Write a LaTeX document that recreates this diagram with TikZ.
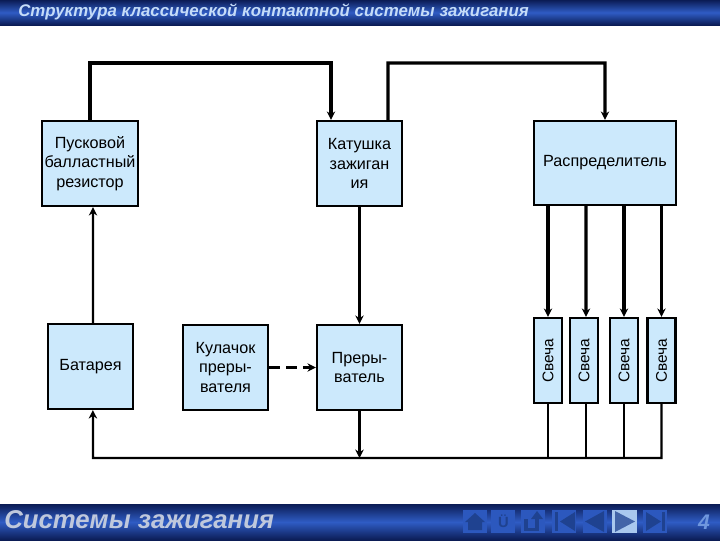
\documentclass[tikz,border=0pt]{standalone}
\usepackage{fontspec}
\setmainfont{Liberation Sans}
\usetikzlibrary{arrows.meta}
\usetikzlibrary{calc}
\usetikzlibrary{positioning}
\definecolor{boxblue}{HTML}{CCE9FC}
\definecolor{bardark}{HTML}{0B1C55}
\definecolor{barblue}{HTML}{2F5CC4}
\definecolor{barlight}{HTML}{C5DCF8}
\definecolor{bargrey}{HTML}{BFC8DC}
\definecolor{navdark}{HTML}{1F4290}
\definecolor{navbtn}{HTML}{2C58BE}
\definecolor{navhi}{HTML}{A9C8EE}
\definecolor{navnum}{HTML}{6F97DE}
\tikzset{
	block/.style={draw,line width=1.6pt,fill=boxblue,align=center,inner sep=0pt,font=\fontsize{11.5}{14}\selectfont,minimum width=2.125cm,minimum height=2.125cm},
	plug/.style={block,rotate=90,minimum width=2.125cm,minimum height=0.7cm,font=\fontsize{11}{13}\selectfont},
	heavy/.style={line width=2.2pt},
	light/.style={line width=1.6pt},
	navicon/.style={fill=navdark,draw=none}
}
\begin{document}
\begin{tikzpicture}[x=0.025cm,y=-0.025cm,>={Stealth[length=6pt,width=6pt]}]
		\useasboundingbox (0,0) rectangle (720,540);
		% bars
		\shade[top color=bardark,bottom color=bardark,middle color=barblue] (0,0) rectangle (720,25);
		\shade[top color=bardark,bottom color=bardark,middle color=barblue] (0,504) rectangle (720,540);
		\path
		(18,12) node[anchor=west,text=barlight,inner sep=0pt,font=\fontsize{12}{14}\selectfont\bfseries\itshape](title) {Структура классической контактной системы зажигания}
		(4,520) node[anchor=west,text=bargrey,inner sep=0pt,font=\fontsize{18.3}{21}\selectfont\bfseries\itshape](footer) {Системы зажигания}
		(704,522) node[text=navnum,inner sep=0pt,font=\fontsize{15}{18}\selectfont\bfseries\itshape](page) {4};
		% blocks
		\path
		(90,163.5) node[block,minimum width=2.4cm](res) {Пусковой\\балластный\\резистор}
		(359.5,163.5) node[block](coil) {Катушка\\зажиган\\ия}
		(605,163) node[block,minimum width=3.55cm,minimum height=2.1cm](dist) {Распределитель}
		(90.5,366.5) node[block](bat) {Батарея}
		(225.5,367.5) node[block](cam) {Кулачок\\преры-\\вателя}
		(359.5,367.5) node[block](brk) {Преры-\\ватель}
		(548,360.5) node[plug](p1) {Свеча}
		(584,360.5) node[plug](p2) {Свеча}
		(624,360.5) node[plug](p3) {Свеча}
		(661.5,360.5) node[plug](p4) {Свеча};
		% routing points
		\coordinate (t1) at (90,63);
		\coordinate (t2) at (388,63);
		\coordinate (bus) at (93,458);
		% connectors
		\draw[heavy,->] (res.north) -- (t1) -| ([xshift=-0.7125cm]coil.north);
		\draw[heavy,->] ([xshift=0.7125cm]coil.north) -- (t2) -| (dist.north);
		\draw[light,->] ([xshift=0.06cm]bat.north) -- ([xshift=0.075cm]res.south);
		\draw[heavy,->] (coil.south) -- (brk.north);
		\draw[heavy,->,dash pattern=on 8pt off 4pt] (cam.east) -- (brk.west);
		\foreach \p in {p1,p3,p4}
			\draw[heavy,->] (dist.south -| \p.center) -- (\p.east);
		\draw[heavy,->] (dist.south -| {$(p2.center)+(2,0)$}) -- ([xshift=0.05cm]p2.east);
		\draw[light] (p1.west) -- (p1.west |- bus);
		\draw[light] ([xshift=0.05cm]p2.west) -- ([xshift=0.05cm]p2.west |- bus);
		\draw[light] (p3.west) -- (p3.west |- bus);
		\draw[light,->] (p4.west) |- (bus) -- ([xshift=0.06cm]bat.south);
		\draw[light,->] (brk.south) -- (brk.south |- bus);
		% buttons
		\foreach \x in {475,503,533,564,595,655}
			\fill[navbtn] (\x-12,510) rectangle (\x+12,533);
		\fill[navhi] (612,510) rectangle (637,533);
		\fill[navicon] (475,513) -- (485,522) -- (482,522) -- (482,530) -- (468,530) -- (468,522) -- (465,522) -- cycle;
		\path (503.5,521.5) node[text=navdark,inner sep=0pt,font=\fontsize{10.5}{12}\selectfont\bfseries](nav) {Ü};
		\draw[navdark,line width=2.4pt] (526,519) -- (526,529.5) -- (537,529.5) -- (537,517);
		\fill[navicon] (537,511) -- (543,519) -- (531,519) -- cycle;
		\fill[navicon] (555,512) rectangle (558,531);
		\fill[navicon] (575,512) -- (575,531) -- (560,521.5) -- cycle;
		\fill[navicon] (604,511) -- (604,532) -- (585,521.5) -- cycle;
		\fill[color=navdark!75!navhi] (615,511) -- (615,532) -- (635,521.5) -- cycle;
		\fill[navicon] (646,512) -- (646,531) -- (661,521.5) -- cycle;
		\fill[navicon] (662,512) rectangle (665,531);
	\end{tikzpicture}
\end{document}
